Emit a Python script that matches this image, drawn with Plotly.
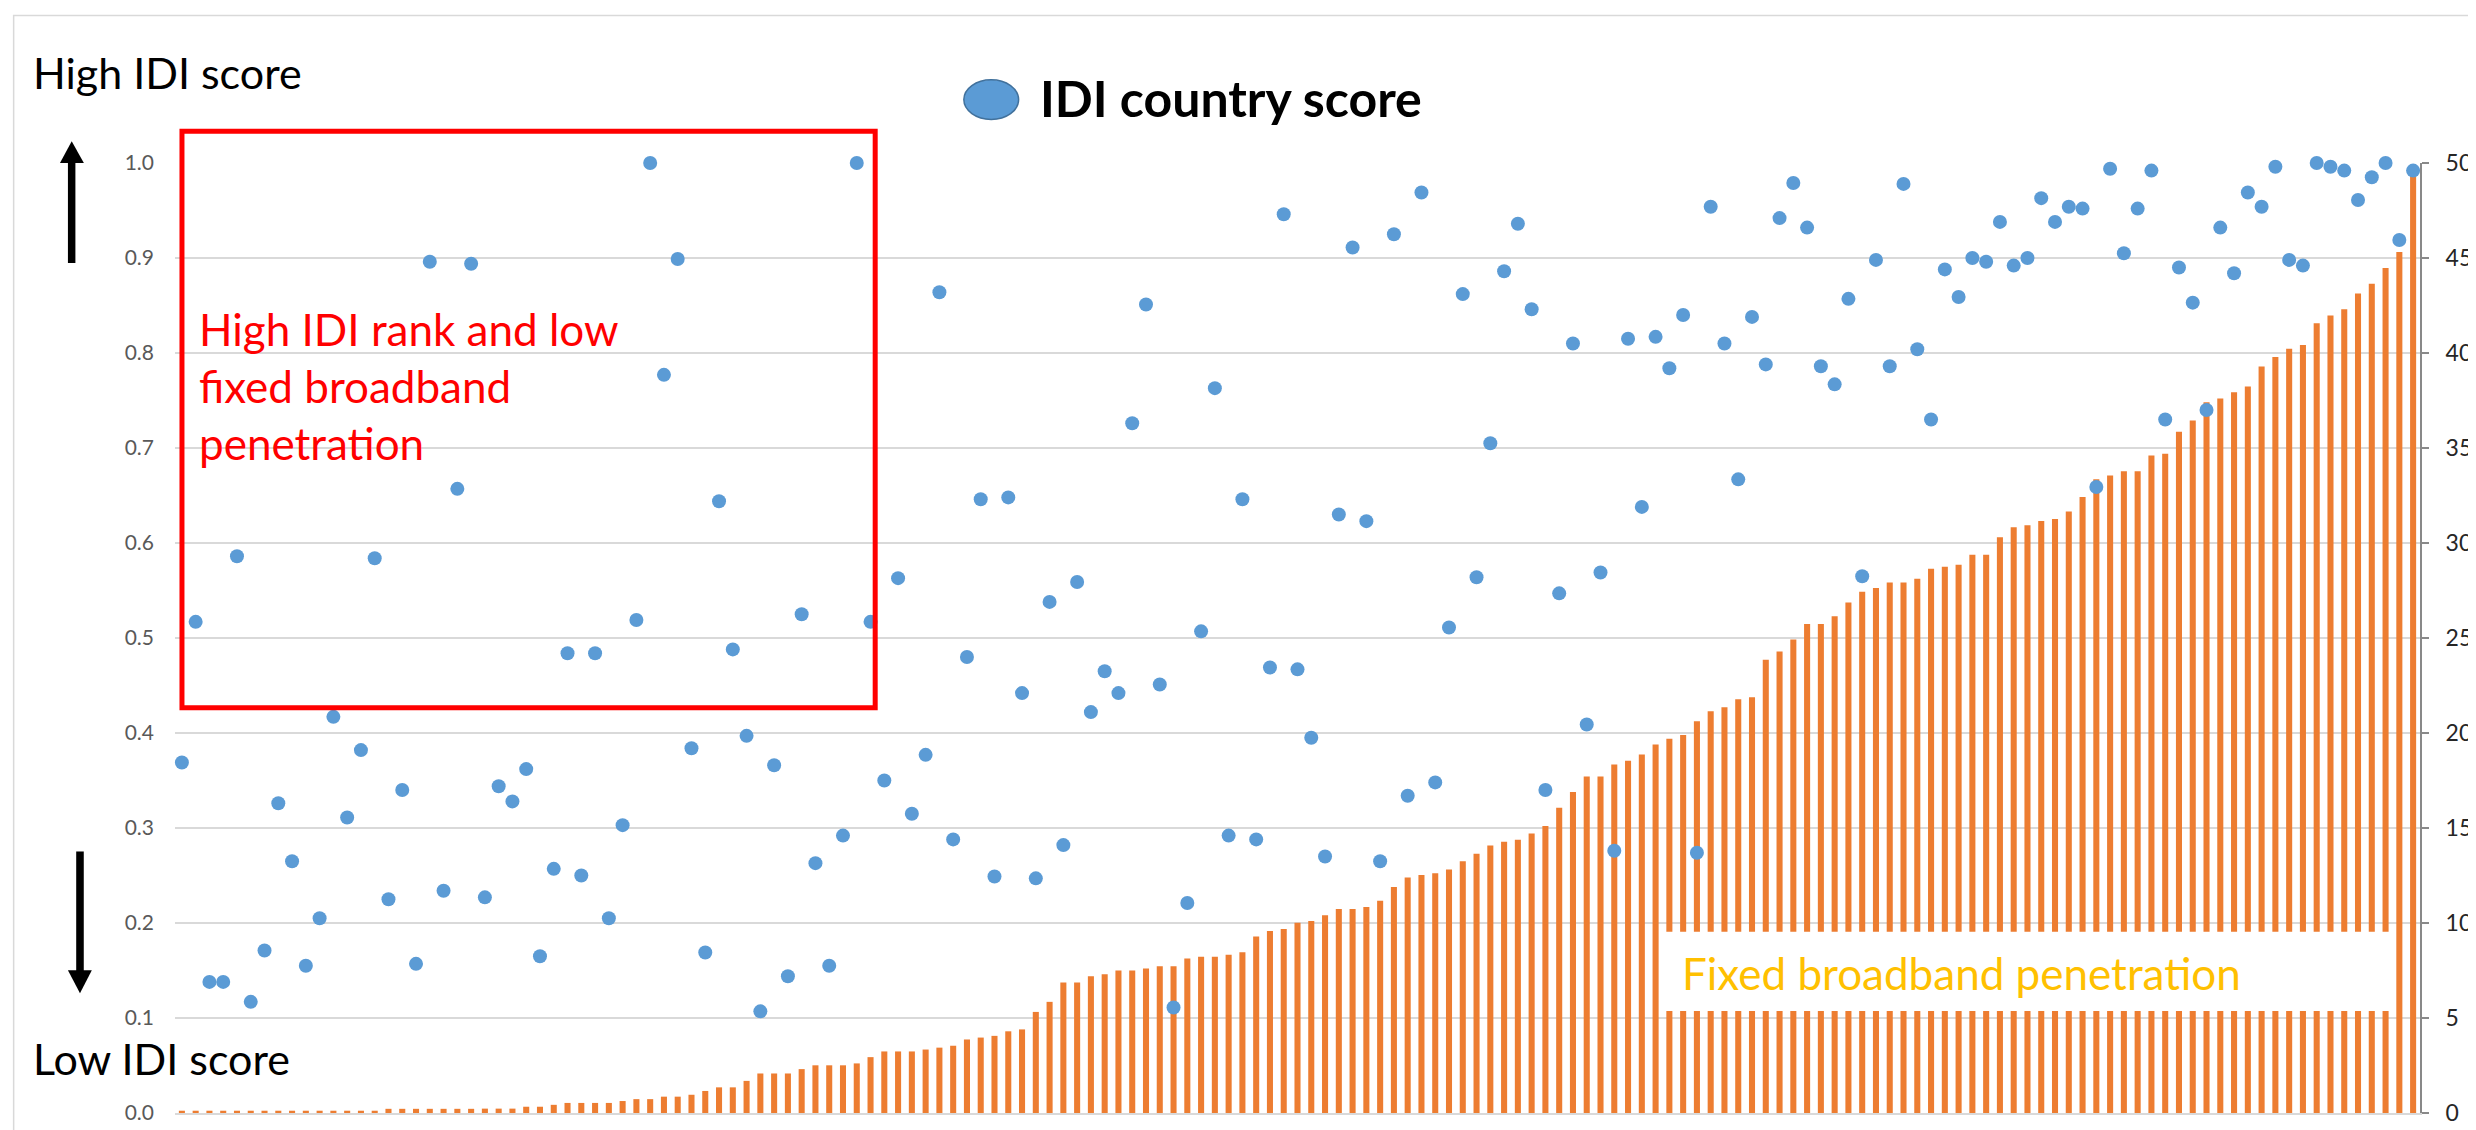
import plotly.graph_objects as go

# ---------------- data ----------------
idi_score = [
    0.369, 0.517, 0.138, 0.138, 0.586, 0.117, 0.171, 0.326, 0.265, 0.155,
    0.205, 0.417, 0.311, 0.382, 0.584, 0.225, 0.340, 0.157, 0.896, 0.234,
    0.657, 0.894, 0.227, 0.344, 0.328, 0.362, 0.165, 0.257, 0.484, 0.250,
    0.484, 0.205, 0.303, 0.519, 1.000, 0.777, 0.899, 0.384, 0.169, 0.644,
    0.488, 0.397, 0.107, 0.366, 0.144, 0.525, 0.263, 0.155, 0.292, 1.000,
    0.517, 0.350, 0.563, 0.315, 0.377, 0.864, 0.288, 0.480, 0.646, 0.249,
    0.648, 0.442, 0.247, 0.538, 0.282, 0.559, 0.422, 0.465, 0.442, 0.726,
    0.851, 0.451, 0.111, 0.221, 0.507, 0.763, 0.292, 0.646, 0.288, 0.469,
    0.946, 0.467, 0.395, 0.270, 0.630, 0.911, 0.623, 0.265, 0.925, 0.334,
    0.969, 0.348, 0.511, 0.862, 0.564, 0.705, 0.886, 0.936, 0.846, 0.340,
    0.547, 0.810, 0.409, 0.569, 0.276, 0.815, 0.638, 0.817, 0.784, 0.840,
    0.274, 0.954, 0.810, 0.667, 0.838, 0.788, 0.942, 0.979, 0.932, 0.786,
    0.767, 0.857, 0.565, 0.898, 0.786, 0.978, 0.804, 0.730, 0.888, 0.859,
    0.900, 0.896, 0.938, 0.892, 0.900, 0.963, 0.938, 0.954, 0.952, 0.659,
    0.994, 0.905, 0.952, 0.992, 0.730, 0.890, 0.853, 0.740, 0.932, 0.884,
    0.969, 0.954, 0.996, 0.898, 0.892, 1.000, 0.996, 0.992, 0.961, 0.985,
    1.000, 0.919, 0.992,
]

fixed_broadband = [
    0.12, 0.12, 0.12, 0.12, 0.12, 0.12, 0.12, 0.12, 0.12, 0.12,
    0.12, 0.12, 0.12, 0.12, 0.12, 0.22, 0.22, 0.22, 0.22, 0.22,
    0.22, 0.22, 0.23, 0.23, 0.23, 0.33, 0.33, 0.43, 0.53, 0.53,
    0.53, 0.53, 0.63, 0.73, 0.73, 0.86, 0.86, 0.96, 1.16, 1.35,
    1.35, 1.69, 2.08, 2.08, 2.08, 2.31, 2.51, 2.51, 2.51, 2.61,
    2.94, 3.24, 3.24, 3.24, 3.34, 3.44, 3.54, 3.87, 3.97, 4.06,
    4.30, 4.40, 5.32, 5.85, 6.87, 6.87, 7.20, 7.30, 7.50, 7.50,
    7.60, 7.73, 7.73, 8.13, 8.23, 8.23, 8.33, 8.46, 9.29, 9.58,
    9.68, 10.01, 10.11, 10.41, 10.74, 10.74, 10.84, 11.17, 11.90, 12.39,
    12.52, 12.62, 12.82, 13.25, 13.65, 14.08, 14.28, 14.38, 14.71, 15.10,
    16.06, 16.89, 17.71, 17.71, 18.34, 18.54, 18.87, 19.40, 19.70, 19.89,
    20.62, 21.15, 21.35, 21.78, 21.88, 23.86, 24.29, 24.92, 25.74, 25.74,
    26.14, 26.87, 27.43, 27.63, 27.92, 27.92, 28.12, 28.65, 28.75, 28.85,
    29.38, 29.38, 30.30, 30.83, 30.93, 31.16, 31.26, 31.66, 32.42, 33.35,
    33.55, 33.78, 33.78, 34.60, 34.70, 35.86, 36.45, 37.41, 37.61, 37.94,
    38.24, 39.29, 39.79, 40.22, 40.42, 41.57, 41.97, 42.30, 43.13, 43.65,
    44.48, 45.31, 49.34,
]

countries = list(range(len(idi_score)))

left_ticks = [0.0, 0.1, 0.2, 0.3, 0.4, 0.5, 0.6, 0.7, 0.8, 0.9, 1.0]
right_ticks = [0, 5, 10, 15, 20, 25, 30, 35, 40, 45, 50]

# ---------------- geometry helpers (pixel -> paper) ----------------
W, H = 2476, 1130
ML, MR, MT, MB = 167, 55, 155, 16
PW = W - ML - MR
PH = H - MT - MB


def px(x):
    return (x - ML) / PW


def py(y):
    return (H - MB - y) / PH


FONT = "Lato"

fig = go.Figure()

fig.add_trace(go.Bar(
    x=countries, y=fixed_broadband, yaxis="y",
    marker=dict(color="#ED7D31", line=dict(width=0)),
    name="Fixed broadband penetration", showlegend=False,
))

fig.add_trace(go.Scatter(
    x=countries, y=idi_score, yaxis="y2", mode="markers",
    marker=dict(color="#5B9BD5", size=14, line=dict(width=0)),
    cliponaxis=False,
    name="IDI country score", showlegend=False,
))

shapes = []
# chart border (top / left visible)
shapes.append(dict(type="rect", xref="paper", yref="paper",
                   x0=px(5), x1=px(W + 20), y0=py(H + 20), y1=py(6),
                   line=dict(color="#D9D9D9", width=1.5), layer="below"))
# red box
shapes.append(dict(type="rect", xref="paper", yref="paper",
                   x0=px(174), x1=px(870), y0=py(705), y1=py(123),
                   line=dict(color="#FF0000", width=5), layer="above"))
# white box behind gold label
shapes.append(dict(type="rect", xref="paper", yref="paper",
                   x0=px(1659), x1=px(2393), y0=py(1011), y1=py(931),
                   fillcolor="white", line=dict(width=0), layer="above"))
# up arrow
shapes.append(dict(type="rect", xref="paper", yref="paper",
                   x0=px(59.5), x1=px(67), y0=py(256), y1=py(154),
                   fillcolor="black", line=dict(width=0), layer="above"))
shapes.append(dict(type="path", xref="paper", yref="paper",
                   path=f"M {px(51.5)} {py(155)} L {px(63.3)} {py(133)} L {px(75.5)} {py(155)} Z",
                   fillcolor="black", line=dict(width=0), layer="above"))
# down arrow
shapes.append(dict(type="rect", xref="paper", yref="paper",
                   x0=px(67.8), x1=px(75.4), y0=py(971), y1=py(850),
                   fillcolor="black", line=dict(width=0), layer="above"))
shapes.append(dict(type="path", xref="paper", yref="paper",
                   path=f"M {px(59.5)} {py(970)} L {px(71.6)} {py(993)} L {px(83.5)} {py(970)} Z",
                   fillcolor="black", line=dict(width=0), layer="above"))
# legend marker (ellipse)
shapes.append(dict(type="circle", xref="paper", yref="paper",
                   x0=px(959), x1=px(1014), y0=py(111), y1=py(71),
                   fillcolor="#5B9BD5", line=dict(color="#41719C", width=1.5),
                   layer="above"))

annotations = [
    dict(text="High IDI score", x=px(22), y=py(64), xref="paper", yref="paper",
         xanchor="left", yanchor="middle", showarrow=False,
         font=dict(family=FONT, size=43, color="black")),
    dict(text="Low IDI score", x=px(22), y=py(1059), xref="paper", yref="paper",
         xanchor="left", yanchor="middle", showarrow=False,
         font=dict(family=FONT, size=43, color="black")),
    dict(text="<b>IDI country score</b>", x=px(1033), y=py(89), xref="paper", yref="paper",
         xanchor="left", yanchor="middle", showarrow=False,
         font=dict(family=FONT, size=50, color="black")),
    dict(text="High IDI rank and low<br>fixed broadband<br>penetration",
         x=px(189), y=py(380), xref="paper", yref="paper",
         xanchor="left", yanchor="middle", align="left", showarrow=False,
         font=dict(family=FONT, size=44, color="#FF0000")),
    dict(text="Fixed broadband penetration", x=px(1678), y=py(973),
         xref="paper", yref="paper",
         xanchor="left", yanchor="middle", showarrow=False,
         font=dict(family=FONT, size=44, color="#FFC000")),
]

fig.update_layout(
    width=W, height=H,
    margin=dict(l=ML, r=MR, t=MT, b=MB, pad=0),
    paper_bgcolor="white", plot_bgcolor="white",
    bargap=0.56,
    showlegend=False,
    font=dict(family=FONT),
    xaxis=dict(range=[-0.5, len(countries) - 0.5], showticklabels=False,
               showgrid=False, zeroline=False, showline=True,
               linecolor="#D9D9D9", linewidth=2, ticks=""),
    yaxis=dict(range=[0, 50], side="right", tickvals=right_ticks,
               showgrid=True, gridcolor="#D9D9D9", gridwidth=1.5,
               zeroline=False, showline=True, linecolor="#898989", linewidth=2,
               ticks="outside", ticklen=7, tickwidth=2, tickcolor="#898989",
               ticklabelstandoff=12,
               tickfont=dict(family=FONT, size=23, color="#262626")),
    yaxis2=dict(range=[0, 1], side="left", overlaying="y", tickvals=left_ticks,
                tickformat=".1f", showgrid=False, zeroline=False, showline=False,
                ticks="", ticklabelstandoff=20,
                tickfont=dict(family=FONT, size=21, color="#595959")),
    shapes=shapes,
    annotations=annotations,
)

fig.write_html("out.html")
